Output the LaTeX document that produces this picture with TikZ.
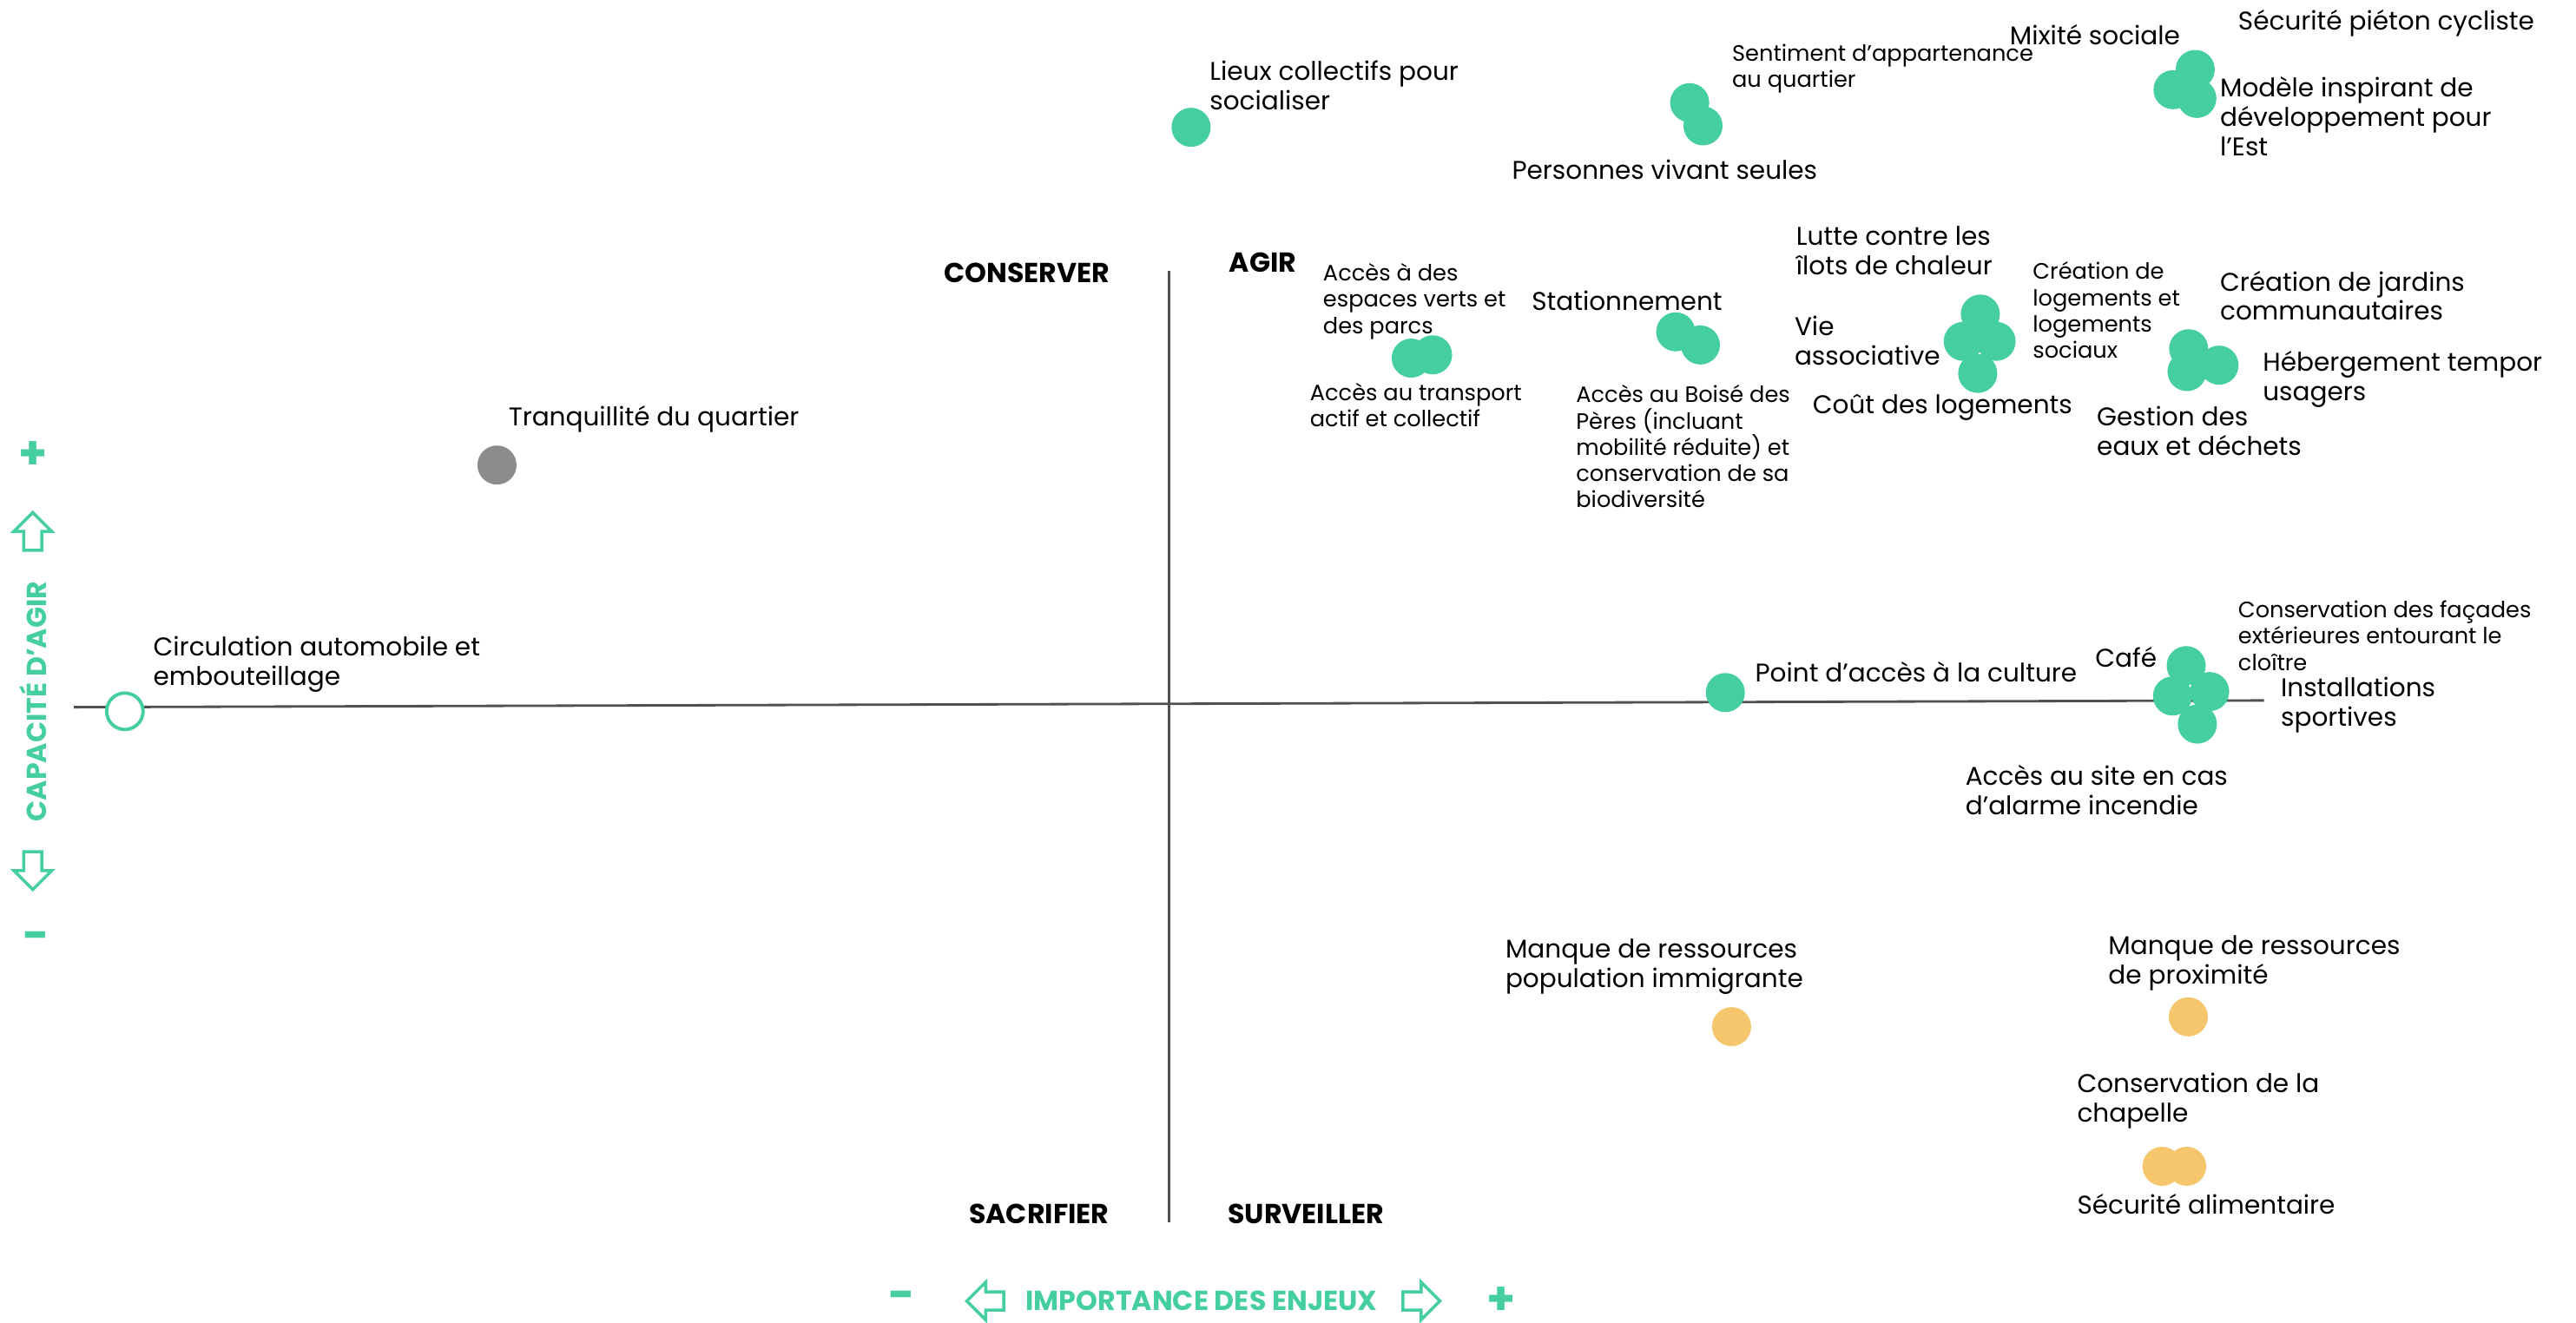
\documentclass[tikz,border=0pt]{standalone}
\usepackage{fontspec}
\setmainfont{Poppins}
\usetikzlibrary{positioning}
\definecolor{mapgreen}{HTML}{45CEA0}
\definecolor{mapgray}{HTML}{8C8C8C}
\definecolor{mapyellow}{HTML}{F6C66C}
\definecolor{axisgray}{HTML}{505050}

\begin{document}
\begin{tikzpicture}[
    x=0.01892cm, y=-0.01892cm,
    dot/.style={circle, fill=#1, inner sep=0pt, minimum size=4.5mm},
    ring/.style={circle, draw=mapgreen, line width=1.1pt, fill=white, inner sep=0pt, minimum size=4.2mm},
    lbl/.style={anchor=base west, align=left, inner sep=0pt, font=\fontsize{8.4}{9.66}\selectfont},
    lblsmall/.style={lbl, font=\fontsize{7.3}{8.6}\selectfont},
    quad/.style={anchor=base west, inner sep=0pt, font=\fontsize{9}{10}\selectfont\bfseries},
    axistitle/.style={text=mapgreen, inner sep=0pt, font=\fontsize{9}{10}\selectfont\bfseries},
    sign/.style={text=mapgreen, inner sep=0pt, font=\fontsize{15}{15}\selectfont\bfseries},
    arrowbox/.style={draw=mapgreen, line width=1pt, line join=miter},
]
\useasboundingbox (0,0) rectangle (1568,805);

% Axes
\coordinate (xleft) at (45,430.5);
\coordinate (xright) at (1378,426.4);
\coordinate (ytop) at (711.4,164.7);
\coordinate (ybottom) at (711.4,744);
\draw[axisgray, line width=0.8pt] (xleft) -- (xright);
\draw[axisgray, line width=0.8pt] (ytop) -- (ybottom);

% Quadrants
\node[quad] (conserver) at (574.3,171.8) {CONSERVER};
\node[quad] (agir) at (747.9,165.6) {AGIR};
\node[quad] (sacrifier) at (589.5,744.7) {SACRIFIER};
\node[quad] (surveiller) at (747.1,744.7) {SURVEILLER};

% Vertical axis title
\node[sign] (yplus) at (20,277) {+};
\draw[arrowbox] (20,312) -- (31.5,323.5) -- (25.5,323.5) -- (25.5,335) -- (14.5,335) -- (14.5,323.5) -- (8.5,323.5) -- cycle;
\node[axistitle, rotate=90] (ytitle) at (20,427) {CAPACITÉ D’AGIR};
\draw[arrowbox] (20,541.5) -- (31.5,530) -- (25.5,530) -- (25.5,518.5) -- (14.5,518.5) -- (14.5,530) -- (8.5,530) -- cycle;
\node[sign] (yminus) at (22,573) {-};

% Horizontal axis title
\node[sign] (xminus) at (549,792) {-};
\draw[arrowbox] (588.5,792) -- (600,780.5) -- (600,786.5) -- (611,786.5) -- (611,797.5) -- (600,797.5) -- (600,803.5) -- cycle;
\node[axistitle] (xtitle) at (731.4,792) {IMPORTANCE DES ENJEUX};
\draw[arrowbox] (876.5,792) -- (865,780.5) -- (865,786.5) -- (854,786.5) -- (854,797.5) -- (865,797.5) -- (865,803.5) -- cycle;
\node[sign] (xplus) at (914,792) {+};

% Top row
\node[dot=mapgreen] (lieux) at (725,77.5) {};
\node[lbl] (lieuxlbl) at (736,66.8) {Lieux collectifs pour\\socialiser};
\node[dot=mapgreen] (sentiment) at (1028.5,62.5) {};
\node[dot=mapgreen] (seules) at (1036.6,76.6) {};
\node[lblsmall] (sentimentlbl) at (1054,53) {Sentiment d’appartenance\\au quartier};
\node[lbl] (seuleslbl) at (920,109) {Personnes vivant seules};
\node[dot=mapgreen] (securite) at (1336.2,42.3) {};
\node[dot=mapgreen] (mixite) at (1322.7,54.6) {};
\node[dot=mapgreen] (modele) at (1337.2,59.9) {};
\node[lbl] (mixitelbl) at (1223,27) {Mixité sociale};
\node[lbl] (securitelbl) at (1362,18) {Sécurité piéton cycliste};
\node[lbl] (modelelbl) at (1351,95) {Modèle inspirant de\\développement pour\\l’Est};

% Agir
\node[dot=mapgreen] (verts) at (859,218) {};
\node[dot=mapgreen] (transport) at (872,216) {};
\node[lblsmall] (vertslbl) at (805,203) {Accès à des\\espaces verts et\\des parcs};
\node[lblsmall] (transportlbl) at (797,260) {Accès au transport\\actif et collectif};
\node[dot=mapgreen] (stationnement) at (1020,202) {};
\node[dot=mapgreen] (boise) at (1035,210) {};
\node[lbl] (stationnementlbl) at (932,189) {Stationnement};
\node[lblsmall] (boiselbl) at (959,309) {Accès au Boisé des\\Pères (incluant\\mobilité réduite) et\\conservation de sa\\biodiversité};
\node[dot=mapgreen] (ilots) at (1205.4,191.2) {};
\node[dot=mapgreen] (vie) at (1195,207.8) {};
\node[dot=mapgreen] (creation) at (1215,207.8) {};
\node[dot=mapgreen] (cout) at (1203.8,227.3) {};
\node[lbl] (ilotslbl) at (1093,167) {Lutte contre les\\îlots de chaleur};
\node[lbl] (vielbl) at (1092,222) {Vie\\associative};
\node[lbl] (coutlbl) at (1103,252) {Coût des logements};
\node[lblsmall] (creationlbl) at (1237,218) {Création de\\logements et\\logements\\sociaux};
\node[dot=mapgreen] (jardins) at (1332.2,212.3) {};
\node[dot=mapgreen] (hebergement) at (1350.7,222.3) {};
\node[dot=mapgreen] (gestion) at (1331.2,226.2) {};
\node[lbl] (jardinslbl) at (1351,195) {Création de jardins\\communautaires};
\node[lbl] (hebergementlbl) at (1377,244) {Hébergement tempor\\usagers};
\node[lbl] (gestionlbl) at (1276,277) {Gestion des\\eaux et déchets};

% Conserver
\node[dot=mapgray] (tranquillite) at (302.5,283.1) {};
\node[lbl] (tranquillitelbl) at (309.2,259.3) {Tranquillité du quartier};
\node[ring] (circulation) at (76,433) {};
\node[lbl] (circulationlbl) at (93,417) {Circulation automobile et\\embouteillage};

% Axis row
\node[dot=mapgreen] (culture) at (1050.2,421.6) {};
\node[lbl] (culturelbl) at (1068,415) {Point d’accès à la culture};
\node[dot=mapgreen] (facades) at (1330.7,405.2) {};
\node[dot=mapgreen] (cafe) at (1322.4,423.7) {};
\node[dot=mapgreen] (installations) at (1345,421) {};
\node[dot=mapgreen] (alarme) at (1337.5,440.8) {};
\node[lbl] (cafelbl) at (1275,406) {Café};
\node[lblsmall] (facadeslbl) at (1362,408) {Conservation des façades\\extérieures entourant le\\cloître};
\node[lbl] (installationslbl) at (1388,442) {Installations\\sportives};
\node[lbl] (alarmelbl) at (1196,496) {Accès au site en cas\\d’alarme incendie};

% Surveiller
\node[dot=mapyellow] (immigrante) at (1054,625) {};
\node[lbl] (immigrantelbl) at (916,601) {Manque de ressources\\population immigrante};
\node[dot=mapyellow] (proximite) at (1332,619) {};
\node[lbl] (proximitelbl) at (1283,599) {Manque de ressources\\de proximité};
\node[dot=mapyellow] (chapelle) at (1316,710) {};
\node[dot=mapyellow] (alimentaire) at (1331,710) {};
\node[lbl] (chapellelbl) at (1264,683) {Conservation de la\\chapelle};
\node[lbl] (alimentairelbl) at (1264,739) {Sécurité alimentaire};

\end{tikzpicture}
\end{document}
